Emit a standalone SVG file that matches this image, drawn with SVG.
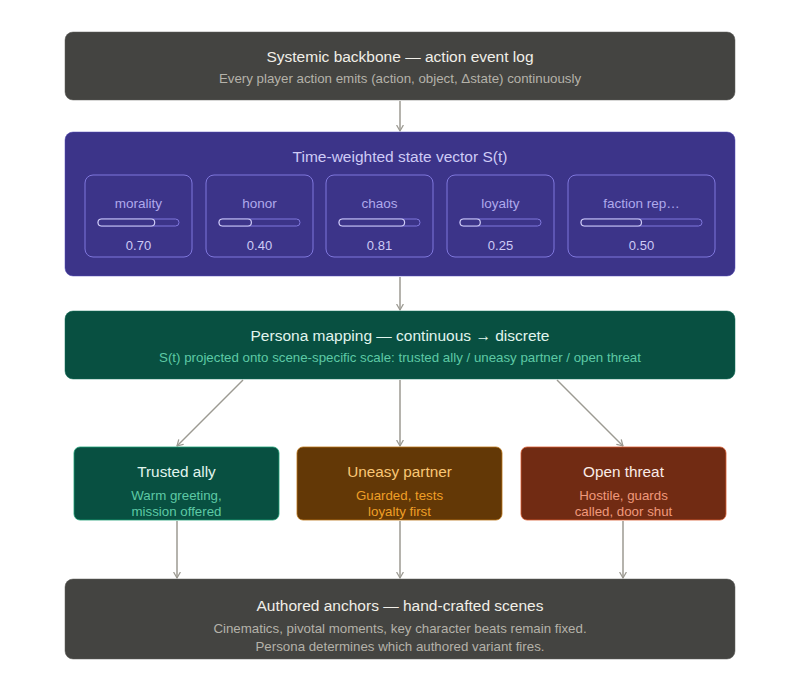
<svg xmlns="http://www.w3.org/2000/svg" width="800" height="693" viewBox="0 0 800 693">
<defs>
<marker id="ah" viewBox="0 0 10 10" refX="8" refY="5" markerWidth="8" markerHeight="8" orient="auto-start-reverse" markerUnits="userSpaceOnUse">
<path d="M1 1 L8 5 L1 9" fill="none" stroke="#9c9a92" stroke-width="1.5" stroke-linecap="round" stroke-linejoin="round"/>
</marker>
</defs>
<style>
text{font-family:"Liberation Sans",Arial,sans-serif;text-anchor:middle}
.t{font-size:15.5px}
.s{font-size:13.3px}
.ct{font-size:15.3px}
.c{stroke:#9c9a92;stroke-width:1.5;fill:none;marker-end:url(#ah)}
.card{fill:none;stroke:#7f77dd;stroke-width:1}
.track{fill:none;stroke:#7f77dd;stroke-width:1}
.fillb{fill:#3c3489;stroke:#cecbf6;stroke-width:1.2}
.lbl{font-size:13.5px;fill:#afa9ec}
.val{font-size:13px;fill:#cecbf6}
</style>
<rect width="800" height="693" fill="#ffffff"/>
<g id="connectors">
<line class="c" x1="400" y1="101" x2="400" y2="131"/>
<line class="c" x1="400" y1="277" x2="400" y2="310"/>
<line class="c" x1="243" y1="380" x2="177" y2="446"/>
<line class="c" x1="400" y1="380" x2="400" y2="446"/>
<line class="c" x1="557" y1="380" x2="623" y2="446"/>
<line class="c" x1="177" y1="521" x2="177" y2="578"/>
<line class="c" x1="400" y1="521" x2="400" y2="578"/>
<line class="c" x1="623" y1="521" x2="623" y2="578"/>
</g>
<g id="backbone">
<rect x="65" y="32" width="670" height="68" rx="8" fill="#444441" stroke="#5f5e5a" stroke-width="0.5"/>
<text class="t" x="400" y="62" fill="#f1efe8">Systemic backbone — action event log</text>
<text class="s" x="400" y="83" fill="#b4b2a9">Every player action emits (action, object, Δstate) continuously</text>
</g>
<g id="state-vector">
<rect x="65" y="132" width="670" height="144" rx="8" fill="#3c3489" stroke="#534ab7" stroke-width="0.5"/>
<text class="t" x="400" y="162" fill="#cecbf6">Time-weighted state vector S(t)</text>
<g id="morality">
<rect class="card" x="85" y="175" width="107" height="82" rx="8"/>
<text class="lbl" x="138.5" y="208">morality</text>
<rect class="track" x="98" y="219" width="81" height="7" rx="3.5"/>
<rect class="fillb" x="98" y="219" width="56.7" height="7" rx="3.5"/>
<text class="val" x="138.5" y="250">0.70</text>
</g>
<g id="honor">
<rect class="card" x="206" y="175" width="107" height="82" rx="8"/>
<text class="lbl" x="259.5" y="208">honor</text>
<rect class="track" x="219" y="219" width="81" height="7" rx="3.5"/>
<rect class="fillb" x="219" y="219" width="32.4" height="7" rx="3.5"/>
<text class="val" x="259.5" y="250">0.40</text>
</g>
<g id="chaos">
<rect class="card" x="326" y="175" width="107" height="82" rx="8"/>
<text class="lbl" x="379.5" y="208">chaos</text>
<rect class="track" x="339" y="219" width="81" height="7" rx="3.5"/>
<rect class="fillb" x="339" y="219" width="65.6" height="7" rx="3.5"/>
<text class="val" x="379.5" y="250">0.81</text>
</g>
<g id="loyalty">
<rect class="card" x="447" y="175" width="107" height="82" rx="8"/>
<text class="lbl" x="500.5" y="208">loyalty</text>
<rect class="track" x="460" y="219" width="81" height="7" rx="3.5"/>
<rect class="fillb" x="460" y="219" width="20.3" height="7" rx="3.5"/>
<text class="val" x="500.5" y="250">0.25</text>
</g>
<g id="faction">
<rect class="card" x="568" y="175" width="147" height="82" rx="8"/>
<text class="lbl" x="641.5" y="208">faction rep…</text>
<rect class="track" x="581" y="219" width="121" height="7" rx="3.5"/>
<rect class="fillb" x="581" y="219" width="60.5" height="7" rx="3.5"/>
<text class="val" x="641.5" y="250">0.50</text>
</g>
</g>
<g id="persona-mapping">
<rect x="65" y="311" width="670" height="68" rx="8" fill="#085041" stroke="#0f6e56" stroke-width="0.5"/>
<text class="t" x="400" y="341" fill="#e1f5ee">Persona mapping — continuous → discrete</text>
<text class="s" x="400" y="362" fill="#5dcaa5">S(t) projected onto scene-specific scale: trusted ally / uneasy partner / open threat</text>
</g>
<g id="trusted-ally">
<rect x="74" y="447" width="205" height="73" rx="6" fill="#085041" stroke="#1d9e75" stroke-width="0.8"/>
<text class="ct" x="176.5" y="477" fill="#e1f5ee">Trusted ally</text>
<text class="s" x="176.5" y="500" fill="#5dcaa5">Warm greeting,</text>
<text class="s" x="176.5" y="516" fill="#5dcaa5">mission offered</text>
</g>
<g id="uneasy-partner">
<rect x="297" y="447" width="205" height="73" rx="6" fill="#633806" stroke="#ba7517" stroke-width="0.8"/>
<text class="ct" x="399.5" y="477" fill="#fac775">Uneasy partner</text>
<text class="s" x="399.5" y="500" fill="#ef9f27">Guarded, tests</text>
<text class="s" x="399.5" y="516" fill="#ef9f27">loyalty first</text>
</g>
<g id="open-threat">
<rect x="521" y="447" width="205" height="73" rx="6" fill="#712b13" stroke="#d85a30" stroke-width="0.8"/>
<text class="ct" x="623.5" y="477" fill="#faece7">Open threat</text>
<text class="s" x="623.5" y="500" fill="#f0997b">Hostile, guards</text>
<text class="s" x="623.5" y="516" fill="#f0997b">called, door shut</text>
</g>
<g id="authored-anchors">
<rect x="65" y="579" width="670" height="80" rx="8" fill="#444441" stroke="#5f5e5a" stroke-width="0.5"/>
<text class="t" x="400" y="611" fill="#f1efe8">Authored anchors — hand-crafted scenes</text>
<text class="s" x="400" y="633" fill="#b4b2a9">Cinematics, pivotal moments, key character beats remain fixed.</text>
<text class="s" x="400" y="651" fill="#b4b2a9">Persona determines which authored variant fires.</text>
</g>
</svg>
